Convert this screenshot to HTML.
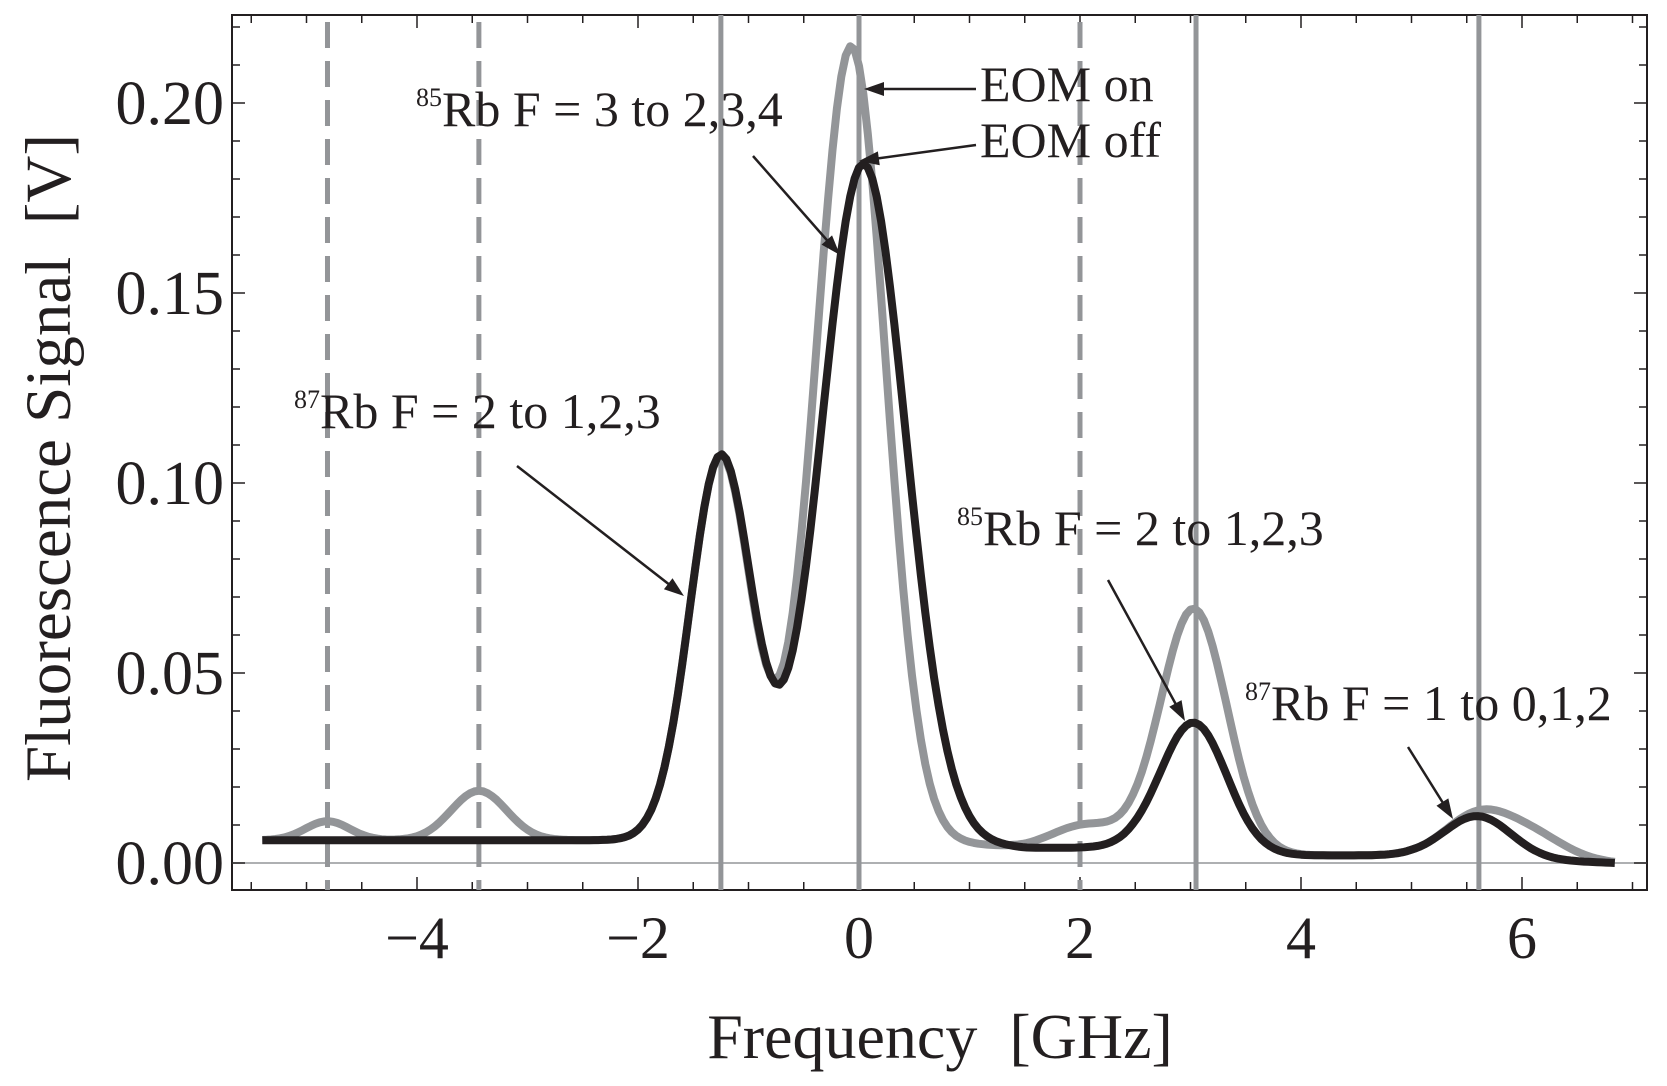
<!DOCTYPE html>
<html><head><meta charset="utf-8"><style>
html,body{margin:0;padding:0;background:#fff;}
svg{display:block;}
text{font-family:"Liberation Serif",serif;fill:#231f20;white-space:pre;}
</style></head><body>
<svg id="s" width="1667" height="1086" viewBox="0 0 1667 1086" xmlns="http://www.w3.org/2000/svg" xml:space="preserve">
<rect x="232" y="15" width="1415" height="875" fill="none" stroke="#231f20" stroke-width="2"/>
<line x1="232" y1="863" x2="1647" y2="863" stroke="#939598" stroke-width="1.5"/>
<g id="ticks" stroke="#231f20" stroke-width="1.5"></g>
<g id="vl"></g>
<g id="curves"></g>
<g font-size="62" text-anchor="end">
<text x="224" y="124">0.20</text><text x="224" y="314">0.15</text><text x="224" y="504">0.10</text><text x="224" y="694">0.05</text><text x="224" y="884">0.00</text>
</g>
<g font-size="60" text-anchor="middle" id="xl"></g>
<text x="940" y="1058" font-size="64" text-anchor="middle">Frequency  [GHz]</text>
<text transform="translate(70,458) rotate(-90)" font-size="65" text-anchor="middle">Fluorescence Signal  [V]</text>
<g font-size="50">
<text x="416" y="126"><tspan font-size="26" dy="-20">85</tspan><tspan dy="20">Rb F = 3 to 2,3,4</tspan></text>
<text x="980" y="101">EOM on</text>
<text x="980" y="157">EOM off</text>
<text x="294" y="428"><tspan font-size="26" dy="-20">87</tspan><tspan dy="20">Rb F = 2 to 1,2,3</tspan></text>
<text x="957" y="545"><tspan font-size="26" dy="-20">85</tspan><tspan dy="20">Rb F = 2 to 1,2,3</tspan></text>
<text x="1245" y="720"><tspan font-size="26" dy="-20">87</tspan><tspan dy="20">Rb F = 1 to 0,1,2</tspan></text>
</g>
<g stroke="#231f20" stroke-width="2.5" id="arrows"></g>
</svg>
<script>
var NS="http://www.w3.org/2000/svg";
function X(f){return 859+110.5*f;}function Y(v){return 863-3800*v;}
function el(p,t,a){var e=document.createElementNS(NS,t);for(var k in a)e.setAttribute(k,a[k]);document.getElementById(p).appendChild(e);return e;}
for(var f=-5.5;f<=7.01;f+=0.5){var maj=Math.abs(f-Math.round(f/2)*2)<1e-6;var L=maj?13:8;var x=X(f);
el("ticks","line",{x1:x,y1:890,x2:x,y2:890-L});el("ticks","line",{x1:x,y1:15,x2:x,y2:15+L});
if(maj){var t=el("xl","text",{x:x,y:958});t.textContent=(f<0?"\u2212":"")+Math.abs(f);}}
for(var v=0;v<=0.221;v+=0.01){var vv=Math.round(v*100)/100;var maj=Math.abs(vv*20-Math.round(vv*20))<1e-6;var L=maj?13:8;var y=Y(vv);
el("ticks","line",{x1:232,y1:y,x2:232+L,y2:y});el("ticks","line",{x1:1647,y1:y,x2:1647-L,y2:y});}
[-1.25,0,3.05,5.61].forEach(function(f){el("vl","line",{x1:X(f),y1:15,x2:X(f),y2:890,stroke:"#939598","stroke-width":5});});
[-4.81,-3.44,2.0].forEach(function(f){el("vl","line",{x1:X(f),y1:22,x2:X(f),y2:890,stroke:"#939598","stroke-width":5,"stroke-dasharray":"26 13"});});
function g(f,a,c,s){return a*Math.exp(-(f-c)*(f-c)/(2*s*s));}
function ga(f,a,c,sl,sr){return g(f,a,c,f<c?sl:sr);}
function base(f){if(f<0.5)return 0.006;if(f<1.5)return 0.006-0.002*(f-0.5);if(f<2.5)return 0.004;if(f<3.5)return 0.004-0.002*(f-2.5);if(f<5)return 0.002;return Math.max(0,0.002-0.002*(f-5)/1.85);}
function black(f){return base(f)+g(f,0.101,-1.25,0.28)+g(f,0.178,0.04,0.38)+g(f,0.034,3.03,0.3)+g(f,0.011,5.6,0.3);}
function gray(f){return base(f)+g(f,0.101,-1.25,0.28)+ga(f,0.209,-0.07,0.32,0.31)+g(f,0.005,-4.81,0.2)+g(f,0.013,-3.44,0.25)+g(f,0.006,2.05,0.3)+g(f,0.064,3.03,0.3)+g(f,0.011,5.6,0.3)+g(f,0.006,6.1,0.3);}
function path(fn){var d="";var st=0.04;var first=true;for(var f=-5.4;f<=6.86;f+=st){var x=X(f),y=Y(fn(f));d+=(first?"M":"L")+x.toFixed(1)+","+y.toFixed(1);first=false;}return d;}
el("curves","path",{d:path(gray),fill:"none",stroke:"#939598","stroke-width":8,"stroke-linejoin":"round"});
el("curves","path",{d:path(black),fill:"none",stroke:"#231f20","stroke-width":8,"stroke-linejoin":"round"});
[[976,89,864,89],[976,145,859,161],[753,156,840,255],[517,466,684,596],[1108,580,1185,721],[1408,747,1453,819]].forEach(function(a){
var dx=a[2]-a[0],dy=a[3]-a[1],l=Math.sqrt(dx*dx+dy*dy),ux=dx/l,uy=dy/l;
el("arrows","line",{x1:a[0],y1:a[1],x2:a[2]-ux*10,y2:a[3]-uy*10});
var bx=a[2]-ux*20,by=a[3]-uy*20,px=-uy*7,py=ux*7;
el("arrows","path",{d:"M"+a[2]+","+a[3]+"L"+(bx+px)+","+(by+py)+"L"+(bx-px)+","+(by-py)+"Z",fill:"#231f20",stroke:"none"});});
</script>
</body></html>
